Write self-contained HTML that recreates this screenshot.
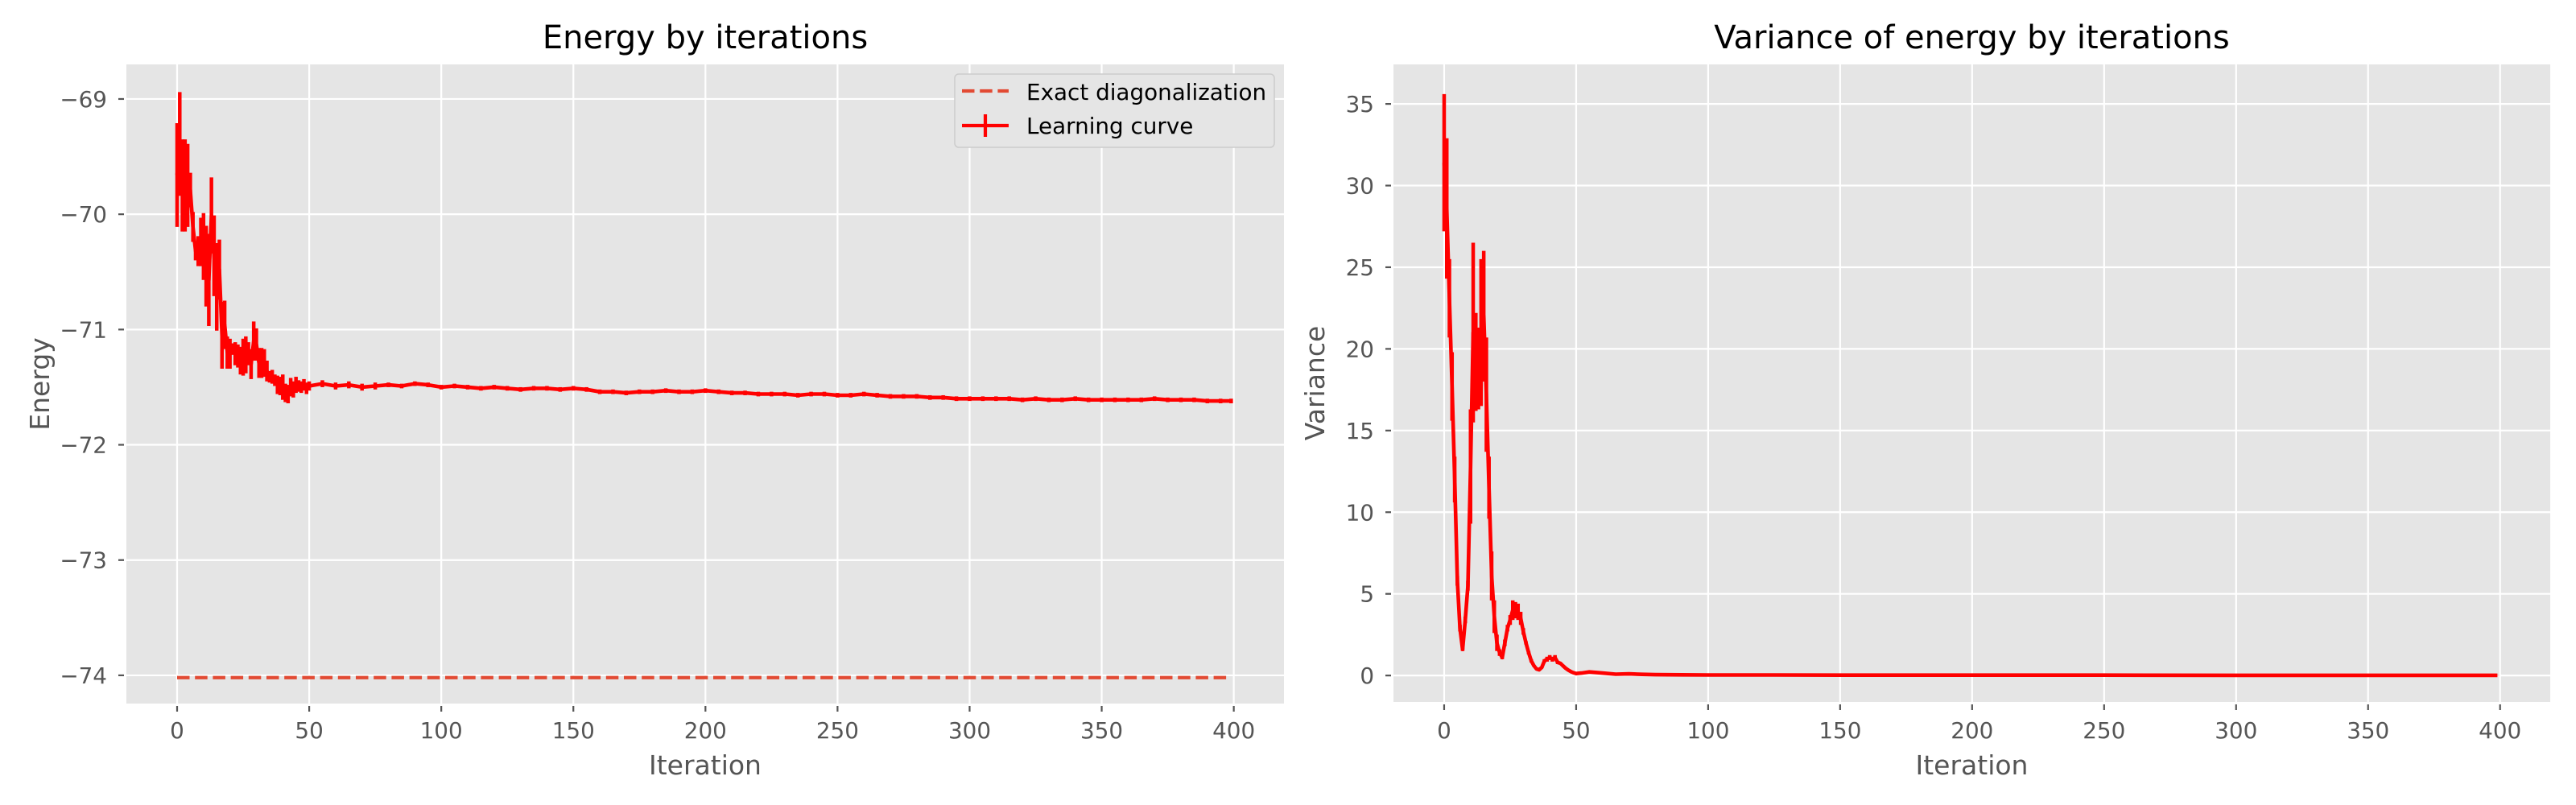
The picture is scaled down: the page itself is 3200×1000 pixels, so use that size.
<!DOCTYPE html>
<html><head><meta charset="utf-8">
<style>
html,body{margin:0;padding:0;background:#fff;}
svg{display:block;font-family:"DejaVu Sans","Liberation Sans",sans-serif;}
</style></head>
<body>
<svg id="fig" width="3200" height="1000" viewBox="0 0 3200 1000" xmlns="http://www.w3.org/2000/svg"></svg>
<script>
// ---------- Energy chart data ----------
const energyIters = [0,1,2,3,4,5,6,7,8,9,10,11,12,13,14,15,16,17,18,19,20,21,22,23,24,25,26,27,28,29,30,31,32,33,34,35,36,37,38,39,40,41,42,43,44,45,46,47,48,49,50,55,60,65,70,75,80,85,90,95,100,105,110,115,120,125,130,135,140,145,150,155,160,165,170,175,180,185,190,195,200,205,210,215,220,225,230,235,240,245,250,255,260,265,270,275,280,285,290,295,300,305,310,315,320,325,330,335,340,345,350,355,360,365,370,375,380,385,390,395,399];
const energyMean = [-69.66,-69.39,-69.75,-69.75,-69.75,-69.79,-70.11,-70.32,-70.32,-70.24,-70.28,-70.45,-70.57,-70.01,-70.36,-70.63,-70.48,-71.05,-70.96,-71.20,-71.21,-71.17,-71.21,-71.23,-71.27,-71.24,-71.22,-71.21,-71.30,-71.10,-71.13,-71.29,-71.29,-71.29,-71.36,-71.41,-71.41,-71.44,-71.48,-71.49,-71.50,-71.55,-71.56,-71.50,-71.52,-71.48,-71.49,-71.50,-71.48,-71.51,-71.49,-71.47,-71.49,-71.48,-71.50,-71.49,-71.48,-71.49,-71.47,-71.48,-71.50,-71.49,-71.50,-71.51,-71.50,-71.51,-71.52,-71.51,-71.51,-71.52,-71.51,-71.52,-71.54,-71.54,-71.55,-71.54,-71.54,-71.53,-71.54,-71.54,-71.53,-71.54,-71.55,-71.55,-71.56,-71.56,-71.56,-71.57,-71.56,-71.56,-71.57,-71.57,-71.56,-71.57,-71.58,-71.58,-71.58,-71.59,-71.59,-71.60,-71.60,-71.60,-71.60,-71.60,-71.61,-71.60,-71.61,-71.61,-71.60,-71.61,-71.61,-71.61,-71.61,-71.61,-71.60,-71.61,-71.61,-71.61,-71.62,-71.62,-71.62];
const energyErr = [0.45,0.45,0.40,0.40,0.36,0.15,0.13,0.08,0.13,0.21,0.29,0.35,0.40,0.33,0.35,0.38,0.26,0.29,0.21,0.14,0.13,0.05,0.10,0.10,0.12,0.16,0.16,0.10,0.13,0.17,0.14,0.13,0.13,0.12,0.09,0.05,0.06,0.05,0.08,0.08,0.11,0.08,0.08,0.08,0.07,0.07,0.05,0.05,0.05,0.05,0.04,0.03,0.03,0.03,0.03,0.03,0.02,0.02,0.02,0.02,0.02,0.02,0.02,0.02,0.02,0.02,0.02,0.02,0.02,0.02,0.02,0.02,0.02,0.02,0.02,0.02,0.02,0.02,0.02,0.02,0.02,0.02,0.02,0.02,0.02,0.02,0.02,0.02,0.02,0.02,0.02,0.02,0.02,0.02,0.02,0.02,0.02,0.02,0.02,0.02,0.02,0.02,0.02,0.02,0.02,0.02,0.02,0.02,0.02,0.02,0.02,0.02,0.02,0.02,0.02,0.02,0.02,0.02,0.02,0.02,0.02];
const exactEnergy = [-74.02, -74.02];
const exactIters = [0, 399];
const energyYTicks = [-69,-70,-71,-72,-73,-74];
const energyYLabels = ["\u221269","\u221270","\u221271","\u221272","\u221273","\u221274"];
// ---------- Variance chart data ----------
const varIters = [0,1,2,3,4,5,6,7,8,9,10,11,12,13,14,15,16,17,18,19,20,21,22,23,24,25,26,27,28,29,30,31,32,33,34,35,36,37,38,39,40,41,42,43,44,45,46,47,48,49,50,52,55,60,65,70,75,80,90,100,125,150,175,200,250,300,350,399];
const varMean = [31.4,28.6,23.1,17.7,12.0,5.8,2.9,1.6,3.4,5.5,12.8,21.0,19.2,18.8,21.0,22.0,17.2,11.5,6.1,3.6,2.0,1.4,1.1,2.0,2.9,3.4,4.0,4.0,3.9,3.5,2.7,2.0,1.4,0.9,0.6,0.4,0.35,0.5,0.9,1.0,1.1,1.0,1.1,0.8,0.75,0.6,0.45,0.33,0.24,0.17,0.12,0.15,0.22,0.15,0.08,0.10,0.07,0.05,0.04,0.03,0.03,0.02,0.02,0.02,0.02,0.01,0.01,0.01];
const varErr = [4.2,4.3,2.4,2.1,1.4,0.3,0.2,0.1,0.2,0.3,3.5,5.5,3.0,2.5,4.5,4.0,3.5,1.9,1.5,1.0,0.5,0.2,0.1,0.2,0.2,0.3,0.6,0.5,0.5,0.4,0.2,0.1,0.1,0.1,0.05,0.05,0.05,0.05,0.1,0.15,0.15,0.15,0.15,0.1,0.05,0.05,0.03,0.03,0.03,0.03,0.03,0.03,0.03,0.02,0.02,0.02,0.02,0.01,0.01,0.01,0.01,0.01,0.01,0.01,0.01,0.01,0.01,0.01];
const varYTicks = [0,5,10,15,20,25,30,35];
const xTicks = [0,50,100,150,200,250,300,350,400];

const NS = "http://www.w3.org/2000/svg";
const svg = document.getElementById('fig');
function mk(tag, attrs, parent, text){
  const e = document.createElementNS(NS, tag);
  for (const k in attrs) e.setAttribute(k, attrs[k]);
  if (text !== undefined) e.textContent = text;
  (parent||svg).appendChild(e);
  return e;
}
function linear(d0,d1,r0,r1){ return v => r0 + (v-d0)*(r1-r0)/(d1-d0); }

function makeAxes(cfg){
  const g = mk('g', {});
  
  
  const L=cfg.left,R=cfg.right,T=cfg.top,B=cfg.bottom;
  const bg = mk('rect',{x:L,y:T,width:R-L,height:B-T,fill:'#E5E5E5'},g);
  
  
  const xs = linear(cfg.xmin,cfg.xmax,L,R);
  const ys = linear(cfg.ymin,cfg.ymax,B,T);
  xTicks.forEach(t=>{
    const x = xs(t);
    const gl = mk('line',{x1:x,x2:x,y1:T,y2:B,stroke:'#fff','stroke-width':2.2},g);
    
    
    mk('line',{x1:x,x2:x,y1:B+3,y2:B+10,stroke:'#555','stroke-width':2.2},g);
    const tl = mk('text',{x:x,y:917,'text-anchor':'middle','font-size':27.8,fill:'#555'},g,String(t));
    
    
  });
  cfg.yTicks.forEach((t,i)=>{
    const y = ys(t);
    const gl = mk('line',{x1:L,x2:R,y1:y,y2:y,stroke:'#fff','stroke-width':2.2},g);
    
    
    mk('line',{x1:L-10,x2:L-3,y1:y,y2:y,stroke:'#555','stroke-width':2.2},g);
    const tl = mk('text',{x:L-24,y:y+10,'text-anchor':'end','font-size':27.8,fill:'#555'},g,cfg.yLabels[i]);
    
    
  });
  const title = mk('text',{x:(L+R)/2,y:60,'text-anchor':'middle','font-size':40,fill:'#000'},g,cfg.title);
  
  
  const xl = mk('text',{x:(L+R)/2,y:962,'text-anchor':'middle','font-size':33,fill:'#555'},g,'Iteration');
  
  
  const yx = cfg.ylabelX, yy=(T+B)/2;
  const yl = mk('text',{x:yx,y:yy,'text-anchor':'middle','font-size':33,fill:'#555',transform:`rotate(-90 ${yx} ${yy})`},g,cfg.ylabel);
  
  
  return {g,xs,ys};
}

function drawSeries(ax, xsArr, mean, err, name){
  const g = mk('g',{},ax.g);
  
  
  let d='';
  xsArr.forEach((it,i)=>{
    const x=ax.xs(it);
    d += (i?'L':'M')+x.toFixed(1)+' '+ax.ys(mean[i]).toFixed(1);
    const eb = mk('line',{x1:x,x2:x,y1:ax.ys(mean[i]-err[i]),y2:ax.ys(mean[i]+err[i]),stroke:'#ff0000','stroke-width':4.5},g);
    
    
  });
  const p = mk('path',{d:d,fill:'none',stroke:'#ff0000','stroke-width':4.6,'stroke-linejoin':'round'},g);
  
  
}

const ax1 = makeAxes({name:'energy-chart',left:157,right:1595,top:80,bottom:874,
  xmin:-19.2,xmax:419,ymin:-74.245,ymax:-68.70,yTicks:energyYTicks,yLabels:energyYLabels,
  title:'Energy by iterations',ylabel:'Energy',ylabelX:61});
const exact = mk('line',{x1:ax1.xs(exactIters[0]),x2:ax1.xs(exactIters[1]),y1:ax1.ys(exactEnergy[0]),y2:ax1.ys(exactEnergy[1]),stroke:'#E24A33','stroke-width':4.2,'stroke-dasharray':'15.5 6.7'},ax1.g);


drawSeries(ax1, energyIters, energyMean, energyErr, 'learning-curve');

const lg = mk('g',{},ax1.g);


mk('rect',{x:1186,y:92,width:397,height:91,rx:5,fill:'#E5E5E5',stroke:'#cccccc','stroke-width':1.5},lg);
mk('line',{x1:1195,x2:1253,y1:113,y2:113,stroke:'#E24A33','stroke-width':4.2,'stroke-dasharray':'15.5 6.7'},lg);
const le1 = mk('text',{x:1275,y:124,'font-size':27.8,fill:'#000'},lg,'Exact diagonalization');


mk('line',{x1:1195,x2:1253,y1:156,y2:156,stroke:'#ff0000','stroke-width':4.2},lg);
mk('line',{x1:1224,x2:1224,y1:142,y2:170,stroke:'#ff0000','stroke-width':4.2},lg);
const le2 = mk('text',{x:1275,y:166,'font-size':27.8,fill:'#000'},lg,'Learning curve');



const ax2 = makeAxes({name:'variance-chart',left:1731,right:3168,top:80,bottom:872,
  xmin:-19.2,xmax:419,ymin:-1.62,ymax:37.42,yTicks:varYTicks,yLabels:varYTicks.map(String),
  title:'Variance of energy by iterations',ylabel:'Variance',ylabelX:1645});
drawSeries(ax2, varIters, varMean, varErr, 'variance-curve');
</script>
</body></html>
